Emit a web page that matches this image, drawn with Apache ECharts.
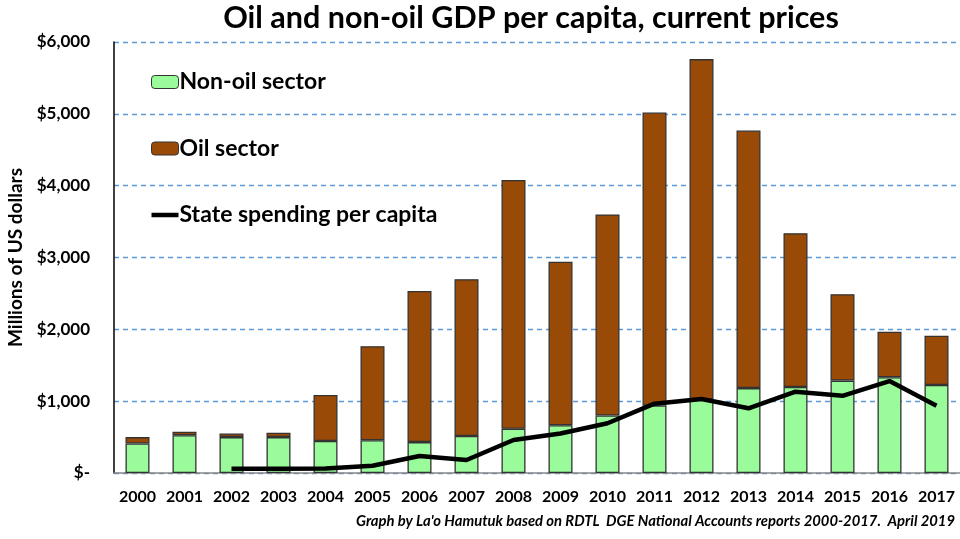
<!DOCTYPE html>
<html><head><meta charset="utf-8">
<script src="https://cdn.jsdelivr.net/npm/echarts@6/dist/echarts.min.js"></script>
<style>html,body{margin:0;padding:0;background:#fff}#c{width:960px;height:539px}</style>
</head><body><div id="c"></div>
<script>
var years = ['2000','2001','2002','2003','2004','2005','2006','2007','2008','2009','2010','2011','2012','2013','2014','2015','2016','2017'];
var nonOil = [410, 525, 500, 500, 445, 455, 430, 515, 615, 665, 800, 940, 1025, 1182, 1198, 1286, 1333, 1226];
var oil = [90, 50, 50, 62, 640, 1310, 2105, 2183, 3465, 2275, 2800, 4078, 4737, 3585, 2140, 1204, 635, 686];
var stateSpending = [null, null, 60, 60, 62, 100, 237, 181, 460, 550, 692, 965, 1030, 901, 1132, 1075, 1280, 935];
var yTicks = [0, 1000, 2000, 3000, 4000, 5000, 6000];

var FONT = 'Lato';
var chart = echarts.init(document.getElementById('c'));
chart.setOption({
  animation: false,
  backgroundColor: '#fff',
  title: {
    text: 'Oil and non-oil GDP per capita, current prices',
    left: 526, top: -2, textAlign: 'center',
    textStyle: { fontFamily: FONT, fontSize: 30.5, fontWeight: 'bold', color: '#000' }
  },
  graphic: [{
    type: 'text', right: 5, top: 514,
    style: { text: "Graph by La'o Hamutuk based on RDTL  DGE National Accounts reports 2000-2017.  April 2019",
      fontFamily: FONT, fontSize: 14.8, fontStyle: 'italic', fontWeight: 'bold', fill: '#000' }
  }],
  legend: {
    orient: 'vertical', left: 151, top: 70, itemGap: 42.5, padding: 0,
    itemWidth: 27, itemHeight: 13,
    textStyle: { fontFamily: FONT, fontSize: 23, lineHeight: 24, fontWeight: 'bold', color: '#000', padding: [0,0,0,-4] },
    data: [
      { name: 'Non-oil sector', itemStyle: { borderColor: '#333', borderWidth: 1 } },
      { name: 'Oil sector', itemStyle: { borderColor: '#333', borderWidth: 1 } },
      { name: 'State spending per capita', icon: 'path://M0,0H27V4.5H0Z', itemStyle: { color: '#000', borderWidth: 0 } }
    ]
  },
  grid: { left: 114, right: 0, top: 42, bottom: 66, outerBoundsMode: 'none', containLabel: false },
  xAxis: {
    type: 'category', data: years,
    axisLine: { show: true, lineStyle: { color: '#888', width: 1.5 } },
    axisTick: { show: false },
    axisLabel: { interval: 0, fontFamily: FONT, fontSize: 16, fontWeight: 'bold', color: '#000', margin: 16 }
  },
  yAxis: {
    type: 'value', min: 0, max: 6000, interval: 1000,
    name: 'Millions of US dollars', nameLocation: 'middle', nameGap: 87, nameRotate: 90,
    nameTextStyle: { fontFamily: FONT, fontSize: 19, fontWeight: 'bold', color: '#000' },
    axisLine: { show: true, lineStyle: { color: '#000', width: 1.5 } },
    axisTick: { show: false },
    axisLabel: {
      fontFamily: FONT, fontSize: 17, fontWeight: 'bold', color: '#000', margin: 24,
      formatter: function (v) { return v === 0 ? '$-' : '$' + v.toLocaleString('en-US'); }
    },
    splitLine: { lineStyle: { color: '#5b9bd5', type: [5, 4], width: 1.3 } }
  },
  series: [
    { name: 'Non-oil sector', type: 'bar', stack: 'gdp', data: nonOil, barWidth: 24,
      itemStyle: { color: '#99fb99', borderColor: '#333', borderWidth: 1.3 } },
    { name: 'Oil sector', type: 'bar', stack: 'gdp', data: oil, barWidth: 24,
      itemStyle: { color: '#994a07', borderColor: '#333', borderWidth: 1.3 } },
    { name: 'State spending per capita', type: 'line', data: stateSpending, symbol: 'none',
      lineStyle: { color: '#000', width: 4.5 }, itemStyle: { color: '#000' }, z: 5 }
  ]
});
</script></body></html>
